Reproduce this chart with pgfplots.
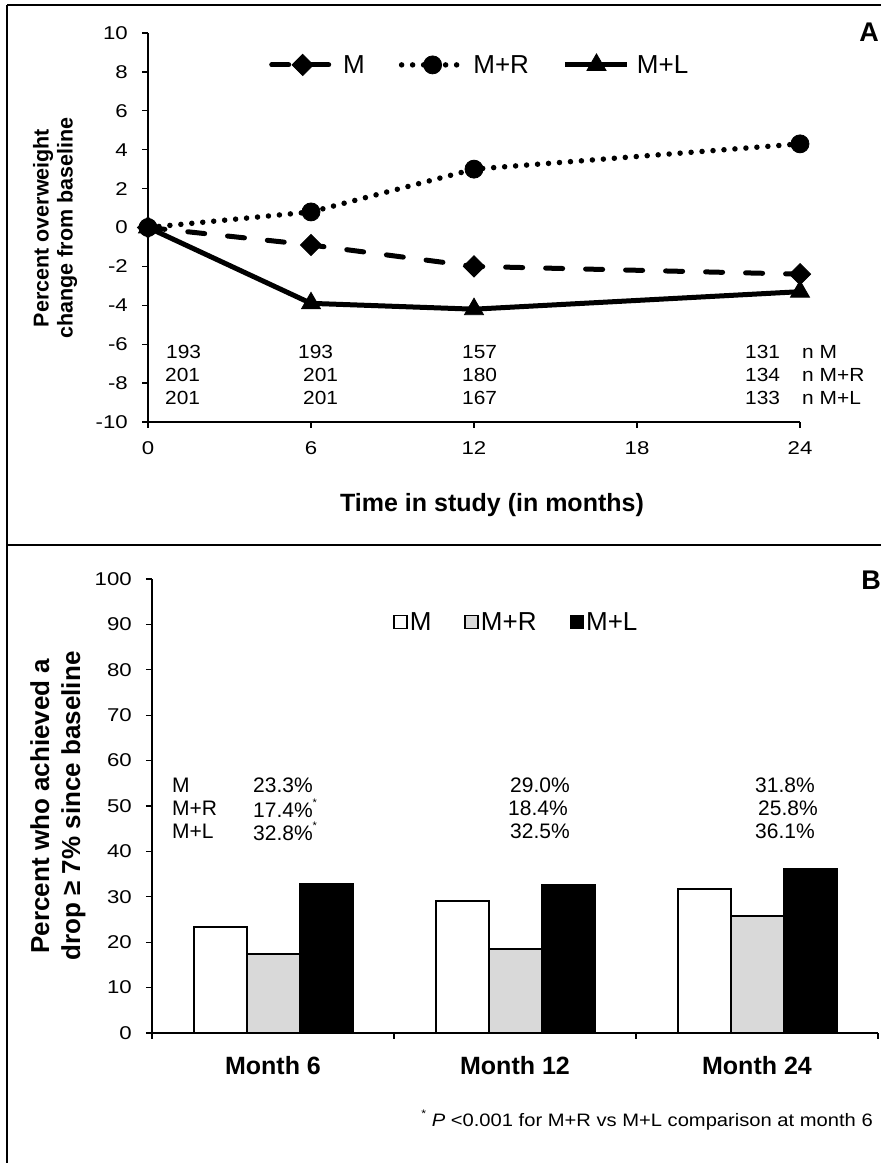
\documentclass[border=0pt]{standalone}
\usepackage{pgfplots}
\pgfplotsset{compat=1.18}
\usepackage{fontspec}
\setmainfont{Liberation Sans}
\newcommand{\fs}[1]{\fontsize{#1}{#1}\selectfont}
\definecolor{lgrey}{RGB}{217,217,217}
\begin{document}
\begin{tikzpicture}
\useasboundingbox (0,0) rectangle (881pt,1163pt);
% ---------------- Panel A ----------------
\begin{axis}[
  at={(148pt,741pt)}, anchor=south west,
  scale only axis, width=652pt, height=389pt,
  xmin=0, xmax=24, ymin=-10, ymax=10,
  axis lines*=left,
  axis line style={line width=1.5pt, black},
  xtick={0,6,12,18,24}, xticklabels={0,6,12,18,24},
  ytick={-10,-8,...,10}, yticklabels={-10,-8,-6,-4,-2,0,2,4,6,8,10},
  tick align=outside, major tick length=6pt,
  tick style={line width=1.3pt, black},
  ticklabel style={font=\fs{18.5}, inner sep=0pt},
  yticklabel style={xshift=-14pt, xscale=1.2},
  xticklabel style={yshift=-13pt, xscale=1.2},
  clip=false,
  legend columns=3,
  legend style={draw=none, fill=none, at={(0.181,0.918)}, anchor=west, font=\fs{26},
     /tikz/every odd column/.append style={column sep=5pt},
     /tikz/every even column/.append style={column sep=32pt}},
  legend image code/.code={\draw[mark repeat=2,mark phase=2,#1] plot coordinates {(0pt,0pt)(31pt,0pt)(62pt,0pt)};},
]
\addplot[black, line width=5pt, line cap=round, dash pattern=on 17pt off 23pt,
  mark=square*, mark size=7.5pt, mark options={solid, rotate=45, line width=0.8pt, fill=black}]
  coordinates {(0,0) (6,-0.9) (12,-2.0) (24,-2.4)};
\addlegendentry{M}
\addplot[black, line width=5.5pt, line cap=round, dash pattern=on 0pt off 11pt,
  mark=*, mark size=9pt, mark options={solid, line width=0.8pt, fill=black}]
  coordinates {(0,0) (6,0.8) (12,3.0) (24,4.3)};
\addlegendentry{M+R}
\addplot[black, line width=5pt,
  mark=triangle*, mark size=11pt, mark options={solid, line width=0.8pt, fill=black}]
  coordinates {(0,0) (6,-3.9) (12,-4.2) (24,-3.3)};
\addlegendentry{M+L}
\end{axis}
% ---------------- Panel B ----------------
\begin{axis}[
  at={(152pt,130pt)}, anchor=south west,
  scale only axis, width=726pt, height=454pt,
  xmin=-0.5, xmax=2.5, ymin=0, ymax=100,
  axis lines*=left,
  axis line style={line width=1.5pt, black},
  ybar=0pt, bar width=53pt,
  xtick={-0.5,0.5,1.5,2.5}, xticklabels={},
  extra x ticks={0,1,2}, extra x tick labels={Month 6,Month 12,Month 24},
  extra x tick style={major tick length=0pt,
     xticklabel style={font=\bfseries\fs{25}, yshift=-23pt, xscale=1}},
  ytick={0,10,...,100},
  yticklabels={0,10,20,30,40,50,60,70,80,90,100},
  tick align=outside, major tick length=6pt,
  tick style={line width=1.3pt, black},
  ticklabel style={font=\fs{18.5}, inner sep=0pt},
  yticklabel style={xshift=-14pt, xscale=1.2},
  legend columns=3,
  legend style={draw=none, fill=none, at={(0.328,0.905)}, anchor=west, font=\fs{26},
     /tikz/every even column/.append style={column sep=31pt}},
  legend image code/.code={\draw[#1, line width=1.5pt] (0pt,-6.5pt) rectangle (13pt,6.5pt);},
]
\addplot[draw=black, fill=white, line width=2pt] coordinates {(0,23.3) (1,29.0) (2,31.8)};
\addlegendentry{M}
\addplot[draw=black, fill=lgrey, line width=2pt] coordinates {(0,17.4) (1,18.4) (2,25.8)};
\addlegendentry{M+R}
\addplot[draw=black, fill=black, line width=2pt] coordinates {(0,32.8) (1,32.5) (2,36.1)};
\addlegendentry{M+L}
\end{axis}
% ---------------- texts and frame (pixel coordinates) ----------------
\begin{scope}[x=1pt, y=-1pt, shift={(0pt,1163pt)}]
\draw[line width=2pt] (7,5) -- (881,5);
\draw[line width=2pt] (7,5) -- (7,1163);
\draw[line width=2pt] (7,545) -- (881,545);
\node[font=\bfseries\fs{27}] at (869,32) {A};
\node[font=\bfseries\fs{27}] at (871,580) {B};
\node[rotate=90, align=center, font=\bfseries\fontsize{21.5}{24}\selectfont] at (55,228)
  {Percent overweight\\change from baseline};
\node[font=\bfseries\fs{25}] at (492,505) {Time in study (in months)};
\node[rotate=90, align=center, font=\bfseries\fontsize{26}{31}\selectfont] at (58,806)
  {Percent who achieved a\\drop ≥ 7\% since baseline};
% n table
\begin{scope}[every node/.style={font=\fs{19}, anchor=west, inner sep=0pt, xscale=1.1}]
\node at (166,352) {193}; \node at (165,375) {201}; \node at (165,398) {201};
\node at (298,352) {193}; \node at (303,375) {201}; \node at (303,398) {201};
\node at (462,352) {157}; \node at (462,375) {180}; \node at (462,398) {167};
\node at (745,352) {131}; \node at (745,375) {134}; \node at (745,398) {133};
\node at (802,352) {n M}; \node at (802,375) {n M+R}; \node at (802,398) {n M+L};
\end{scope}
% percentages table
\begin{scope}[every node/.style={font=\fs{21}, anchor=west, inner sep=0pt}]
\node at (172,785) {M}; \node at (172,808) {M+R}; \node at (172,831) {M+L};
\node at (253,785) {23.3\%};
\node at (253,808) {17.4\%\raisebox{1.0ex}{\fs{11}*}};
\node at (253,831) {32.8\%\raisebox{1.0ex}{\fs{11}*}};
\node at (510,785) {29.0\%}; \node at (508,808) {18.4\%}; \node at (510,831) {32.5\%};
\node at (755,785) {31.8\%}; \node at (758,808) {25.8\%}; \node at (755,831) {36.1\%};
\end{scope}
\node[anchor=east, inner sep=0pt, font=\fs{18}, xscale=1.12] at (873,1120)
  {\raisebox{1.0ex}{\fs{11}*} \textit{P} <0.001 for M+R vs M+L comparison at month 6};
\end{scope}
\end{tikzpicture}
\end{document}
